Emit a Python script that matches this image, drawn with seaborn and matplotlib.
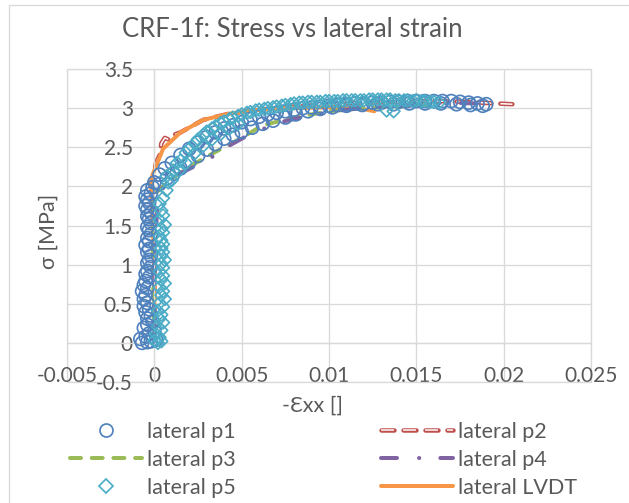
import matplotlib
matplotlib.use("Agg")
import matplotlib.pyplot as plt
import matplotlib.patheffects as pe
from matplotlib.lines import Line2D
from matplotlib.patches import Rectangle
import seaborn as sns

sns.set_theme(style="white")
plt.rcParams["font.family"] = ["Lato", "DejaVu Sans"]
plt.rcParams["lines.scale_dashes"] = False

# ---------------- data ----------------
title = "CRF-1f: Stress vs lateral strain"
xlabel = "-\u0190xx []"
ylabel = "\u03c3 [MPa]"
series_names = ["lateral p1", "lateral p2", "lateral p3", "lateral p4", "lateral p5", "lateral LVDT"]

x_ticks = [-0.005, 0.0, 0.005, 0.01, 0.015, 0.02, 0.025]
x_ticklabels = ["-0.005", "0", "0.005", "0.01", "0.015", "0.02", "0.025"]
y_ticks = [-0.5, 0.0, 0.5, 1.0, 1.5, 2.0, 2.5, 3.0, 3.5]
y_ticklabels = ["-0.5", "0", "0.5", "1", "1.5", "2", "2.5", "3", "3.5"]

# lateral p1 (open circles): elastic branch near zero strain, then two passes of the curve
p1_x = [-0.0007, -0.0002, 0.0001, -0.0004, -0.0008, -0.0005, -0.0003, 0.0000, -0.0006, -0.0004,
        -0.0001, -0.0004, -0.0002, -0.0005, -0.0003, -0.0006, -0.0004, -0.0006, -0.0005, -0.0007,
        -0.0004, -0.0006, -0.0005, -0.0003, -0.0005, -0.0004, -0.0002, -0.0004, -0.0003, -0.0002,
        -0.0004, -0.0003, -0.0005, -0.0003, -0.0004, -0.0002, -0.0003, -0.0004, -0.0002, -0.0003,
        -0.0004, -0.0002, -0.0004, -0.0005, -0.0003, -0.0004, -0.0005, -0.0002, -0.0004, -0.0001,
        0.0000, 0.0003, 0.0006, 0.0010, 0.0015, 0.0020, 0.0025, 0.0030, 0.0035, 0.0040,
        0.0045, 0.0050, 0.0055, 0.0060, 0.0065, 0.0070, 0.0075, 0.0080, 0.0085, 0.0090,
        0.0095, 0.0100, 0.0105, 0.0110, 0.0115, 0.0120, 0.0125, 0.0130, 0.0135, 0.0140,
        0.0145, 0.0150, 0.0155, 0.0160, 0.0165, 0.0170, 0.0175, 0.0180, 0.0185, 0.0190,
        0.0003, 0.0007, 0.0011, 0.0015, 0.0020, 0.0025, 0.0030, 0.0035, 0.0040, 0.0045,
        0.0050, 0.0056, 0.0062, 0.0068, 0.0075, 0.0081, 0.0088, 0.0095, 0.0102, 0.0110,
        0.0119, 0.0128, 0.0137, 0.0146, 0.0155, 0.0164, 0.0173, 0.0181, 0.0188]
p1_y = [0.00, 0.02, 0.04, 0.01, 0.05, 0.08, 0.12, 0.15, 0.19, 0.23,
        0.27, 0.31, 0.35, 0.39, 0.43, 0.47, 0.51, 0.56, 0.61, 0.66,
        0.70, 0.74, 0.79, 0.84, 0.88, 0.92, 0.97, 1.02, 1.06, 1.11,
        1.16, 1.20, 1.25, 1.30, 1.34, 1.39, 1.44, 1.48, 1.53, 1.58,
        1.62, 1.66, 1.70, 1.75, 1.79, 1.83, 1.87, 1.91, 1.95, 1.99,
        2.05, 2.15, 2.23, 2.30, 2.40, 2.48, 2.56, 2.63, 2.69, 2.74,
        2.78, 2.82, 2.86, 2.89, 2.92, 2.94, 2.96, 2.98, 3.00, 3.01,
        3.02, 3.03, 3.04, 3.05, 3.06, 3.06, 3.07, 3.07, 3.08, 3.08,
        3.09, 3.09, 3.09, 3.09, 3.09, 3.09, 3.08, 3.07, 3.06, 3.05,
        2.03, 2.10, 2.16, 2.23, 2.31, 2.39, 2.47, 2.54, 2.61, 2.66,
        2.70, 2.75, 2.80, 2.84, 2.88, 2.92, 2.96, 2.99, 3.01, 3.03,
        3.04, 3.05, 3.05, 3.06, 3.06, 3.06, 3.05, 3.04, 3.03]

# lateral p5 (open diamonds): elastic branch, then two interleaved passes of the curve
p5_x = [0.0002, 0.0004, 0.0000, 0.0003, 0.0001, 0.0004, 0.0002, 0.0005, 0.0003, 0.0004,
        0.0002, 0.0005, 0.0003, 0.0006, 0.0004, 0.0005, 0.0003, 0.0006, 0.0004, 0.0005,
        0.0003, 0.0005, 0.0004, 0.0006, 0.0004, 0.0005, 0.0004, 0.0005, 0.0004, 0.0003,
        0.0005, 0.0004, 0.0006, 0.0003, 0.0005, 0.0004,
        0.0005, 0.0008, 0.0011, 0.0015, 0.0020, 0.0025, 0.0030, 0.0035, 0.0040, 0.0045,
        0.0050, 0.0055, 0.0060, 0.0065, 0.0070, 0.0075, 0.0080, 0.0085, 0.0090, 0.0095,
        0.0100, 0.0105, 0.0110, 0.0115, 0.0120, 0.0125, 0.0130, 0.0135, 0.0140, 0.0145,
        0.0150, 0.0155, 0.0160, 0.0163,
        0.0007, 0.0013, 0.0018, 0.0023, 0.0028, 0.0033, 0.0038, 0.0043, 0.0048, 0.0053,
        0.0058, 0.0063, 0.0068, 0.0073, 0.0078, 0.0083, 0.0088, 0.0093, 0.0098, 0.0103,
        0.0108, 0.0113, 0.0118, 0.0123, 0.0128, 0.0133, 0.0138, 0.0143, 0.0148, 0.0153,
        0.0158,
        0.0003, 0.0007, 0.0010, 0.0014, 0.0018, 0.0023, 0.0028, 0.0033, 0.0038, 0.0043,
        0.0048, 0.0133, 0.0137]
p5_y = [0.00, 0.02, 0.03, 0.07, 0.11, 0.16, 0.21, 0.26, 0.31, 0.36,
        0.41, 0.46, 0.51, 0.56, 0.61, 0.66, 0.71, 0.76, 0.81, 0.86,
        0.91, 0.96, 1.01, 1.06, 1.11, 1.16, 1.21, 1.26, 1.31, 1.36,
        1.41, 1.46, 1.51, 1.57, 1.63, 1.69,
        1.85, 2.05, 2.20, 2.33, 2.48, 2.60, 2.70, 2.77, 2.83, 2.88,
        2.92, 2.95, 2.98, 3.00, 3.02, 3.04, 3.06, 3.07, 3.08, 3.08,
        3.09, 3.09, 3.10, 3.10, 3.10, 3.11, 3.11, 3.11, 3.10, 3.10,
        3.10, 3.09, 3.08, 3.07,
        2.13, 2.30, 2.43, 2.55, 2.66, 2.74, 2.81, 2.86, 2.90, 2.94,
        2.97, 2.99, 3.01, 3.03, 3.05, 3.07, 3.08, 3.08, 3.09, 3.09,
        3.10, 3.10, 3.10, 3.11, 3.11, 3.11, 3.10, 3.10, 3.09, 3.09,
        3.08,
        1.78, 1.95, 2.08, 2.20, 2.30, 2.42, 2.52, 2.60, 2.67, 2.74,
        2.80, 2.97, 2.96]

p2_x = [0.0000, 0.0000, -0.0001, 0.0001, 0.0003, 0.0004, 0.0006, 0.0008, 0.0010, 0.0015,
        0.0028, 0.0043, 0.0060, 0.0080, 0.0100, 0.0120, 0.0140, 0.0160, 0.0180, 0.0195,
        0.0205]
p2_y = [0.00, 1.00, 2.10, 2.30, 2.40, 2.55, 2.62, 2.60, 2.65, 2.69,
        2.85, 2.93, 2.98, 3.02, 3.05, 3.07, 3.08, 3.09, 3.08, 3.06,
        3.05]

p3_x = [0.0000, -0.0001, 0.0000, 0.0005, 0.0010, 0.0020, 0.0030, 0.0040, 0.0050, 0.0062,
        0.0080, 0.0100, 0.0120, 0.0140, 0.0160]
p3_y = [0.00, 1.00, 1.90, 2.00, 2.10, 2.25, 2.38, 2.50, 2.62, 2.78,
        2.88, 2.96, 3.00, 3.02, 3.04]

p4_x = [0.0000, 0.0000, 0.0002, 0.0008, 0.0015, 0.0030, 0.0042, 0.0055, 0.0072, 0.0090,
        0.0110, 0.0130, 0.0150, 0.0167, 0.0185]
p4_y = [0.00, 1.00, 1.90, 2.07, 2.17, 2.33, 2.51, 2.67, 2.82, 2.91,
        2.98, 3.02, 3.05, 3.07, 3.06]

lvdt_x = [0.0000, 0.0000, -0.0002, -0.0001, 0.0005, 0.0015, 0.0028, 0.0043, 0.0060, 0.0080,
          0.0100, 0.0115, 0.0126]
lvdt_y = [0.00, 1.00, 2.05, 2.15, 2.48, 2.69, 2.85, 2.93, 2.98, 3.00,
          3.01, 3.01, 2.96]

# ---------------- styling ----------------
BLUE, RED, GREEN = "#4F81BD", "#C0504D", "#9BBB59"
PURPLE, CYAN, ORANGE = "#8064A2", "#4BACC6", "#F79646"
GRID = "#D9D9D9"
TXT = "#595959"

W, H = 629, 503
PX = 0.72  # points per pixel at dpi 100

fig = plt.figure(figsize=(W / 100, H / 100), dpi=100)
ax = fig.add_axes([67 / W, 1 - 382 / H, (591 - 67) / W, (382 - 69) / H])

red_fx = [pe.Stroke(linewidth=4.5 * PX, foreground=RED, capstyle="round"), pe.Normal()]
green_ls = (0, (11 * PX, 10.7 * PX))
purple_ls = (0, (16 * PX, 22 * PX, 0.3 * PX, 21 * PX))
red_ls = (0, (13 * PX, 9 * PX))

sns.lineplot(x=p2_x, y=p2_y, sort=False, estimator=None, ax=ax, color="white",
             linewidth=1.5 * PX, linestyle=red_ls, path_effects=red_fx, zorder=2.0)
sns.lineplot(x=lvdt_x, y=lvdt_y, sort=False, estimator=None, ax=ax, color=ORANGE,
             linewidth=4 * PX, zorder=2.1)
sns.lineplot(x=p3_x, y=p3_y, sort=False, estimator=None, ax=ax, color=GREEN,
             linewidth=4 * PX, linestyle=green_ls, dash_capstyle="round", zorder=2.2)
sns.lineplot(x=p4_x, y=p4_y, sort=False, estimator=None, ax=ax, color=PURPLE,
             linewidth=4 * PX, linestyle=purple_ls, dash_capstyle="round", zorder=2.3)
sns.scatterplot(x=p1_x, y=p1_y, ax=ax, marker="o", s=(13 * PX) ** 2, color=BLUE,
                facecolor="none", edgecolor=BLUE, linewidth=1.7 * PX, zorder=3)
sns.scatterplot(x=p5_x, y=p5_y, ax=ax, marker="D", s=(9 * PX) ** 2, color=CYAN,
                facecolor="none", edgecolor=CYAN, linewidth=1.7 * PX, zorder=3.1)

ax.set_xlim(-0.005, 0.025)
ax.set_ylim(-0.5, 3.5)
ax.set_xticks(x_ticks)
ax.set_xticklabels(x_ticklabels)
ax.set_yticks(y_ticks)
ax.set_yticklabels(y_ticklabels)
ax.set_xlabel("")
ax.set_ylabel("")

ax.grid(True, color=GRID, linewidth=1.3 * PX)
ax.set_axisbelow(True)
for side in ["top", "right"]:
    ax.spines[side].set_visible(False)
for side in ["left", "bottom"]:
    ax.spines[side].set_position(("data", 0))
    ax.spines[side].set_color(GRID)
    ax.spines[side].set_linewidth(1.3 * PX)
ax.patch.set_edgecolor(GRID)
ax.patch.set_linewidth(1.3 * PX)

ax.tick_params(axis="both", length=0, labelsize=15, labelcolor=TXT)
ax.tick_params(axis="x", pad=17)
ax.tick_params(axis="y", pad=15.5)

fig.text(292.5 / W, 1 - 37 / H, title, ha="center", va="baseline", fontsize=18.5, color=TXT)
fig.text(312 / W, 1 - 406 / H, xlabel, ha="center", va="center", fontsize=15.5, color=TXT)
fig.text(49 / W, 1 - 231 / H, ylabel, ha="center", va="center", rotation=90,
         fontsize=15.5, color=TXT)

fig.add_artist(Rectangle((9 / W, -0.05), 1.2, 1 - 5 / H + 0.05, transform=fig.transFigure,
                         fill=False, edgecolor=GRID, linewidth=1.3 * PX))

# legend
h_p1 = Line2D([], [], ls="none", marker="o", ms=13 * PX, mfc="none", mec=BLUE, mew=1.7 * PX)
h_p2 = Line2D([], [], color="white", lw=1.5 * PX, ls=red_ls, path_effects=red_fx)
h_p3 = Line2D([], [], color=GREEN, lw=4 * PX, ls=green_ls, dash_capstyle="round")
h_p4 = Line2D([], [], color=PURPLE, lw=4 * PX, ls=purple_ls, dash_capstyle="round")
h_p5 = Line2D([], [], ls="none", marker="D", ms=10.5 * PX, mfc="none", mec=CYAN, mew=1.7 * PX)
h_lv = Line2D([], [], color=ORANGE, lw=4 * PX)
handles = [h_p1, h_p3, h_p5, h_p2, h_p4, h_lv]
labels = [series_names[0], series_names[2], series_names[4],
          series_names[1], series_names[3], series_names[5]]
fs = 15.5
fpx = fs / PX
leg = fig.legend(handles, labels, ncol=2, loc="upper left",
                 bbox_to_anchor=(70 / W, 1 - 422 / H), frameon=False, fontsize=fs,
                 handlelength=72 / fpx, handletextpad=5 / fpx, columnspacing=145 / fpx,
                 labelspacing=0.37, borderpad=0, borderaxespad=0, numpoints=1)
for t in leg.get_texts():
    t.set_color(TXT)

fig.savefig("out.png", dpi=100)
